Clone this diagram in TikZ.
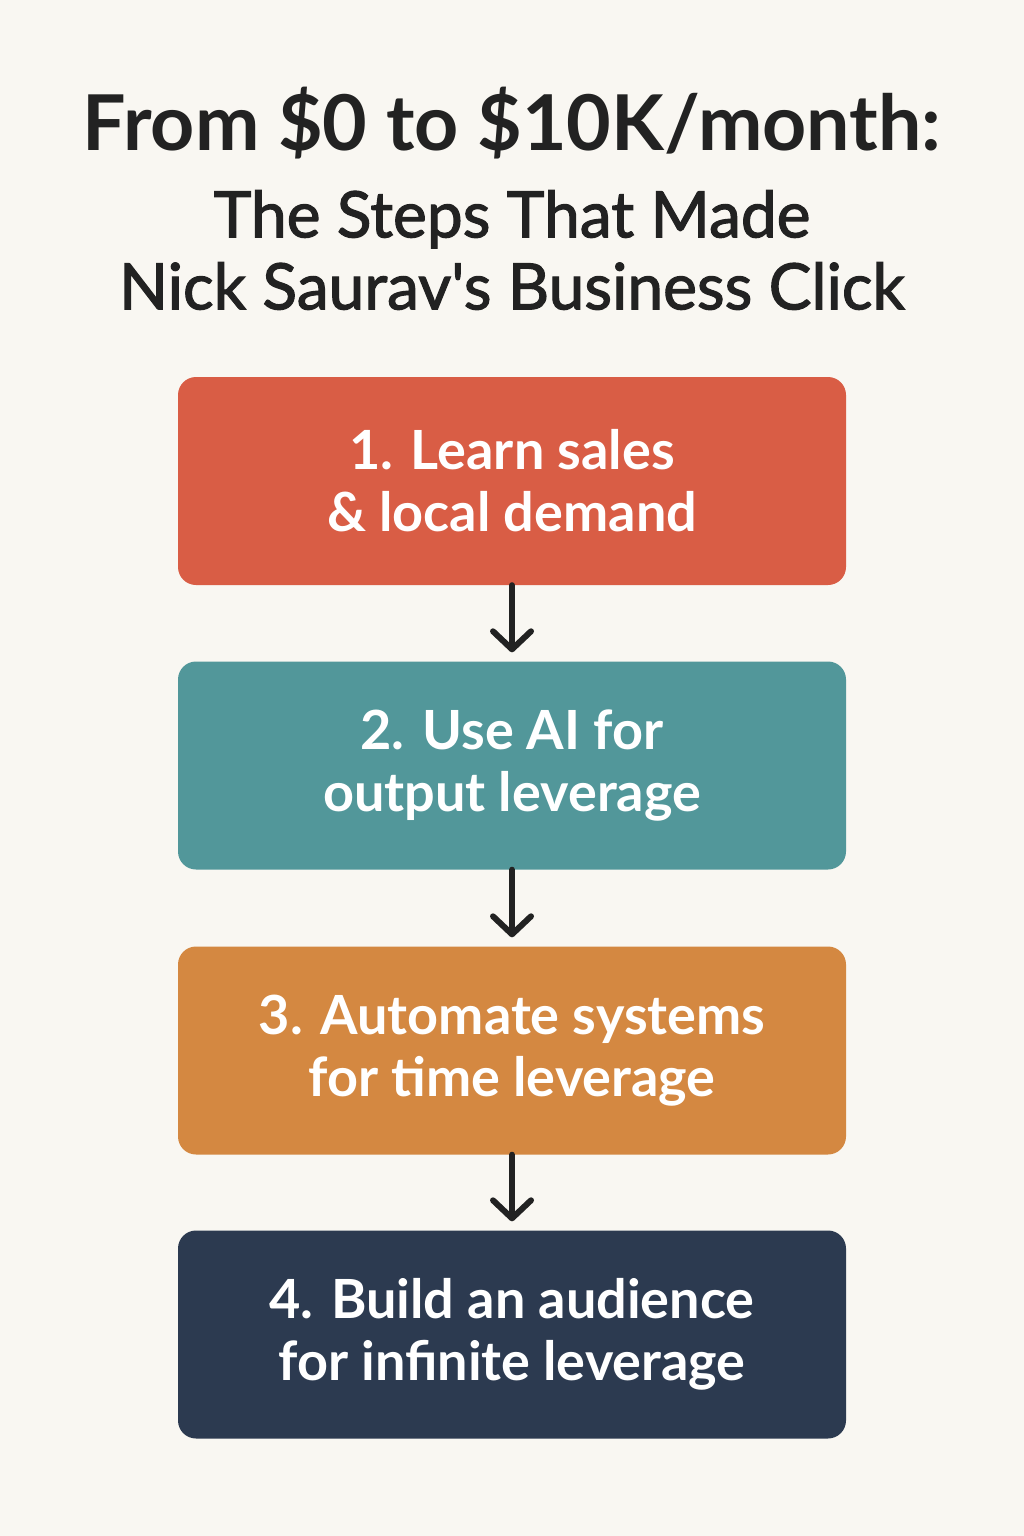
\documentclass[tikz,border=0pt]{standalone}
\usepackage{fontspec}
\setmainfont{Lato}
\newfontfamily\subfont[FakeBold=1.8]{Lato}
\usetikzlibrary{arrows.meta}
\definecolor{bg}{HTML}{F9F7F2}
\definecolor{ink}{HTML}{222222}
\definecolor{cred}{HTML}{D95D45}
\definecolor{cteal}{HTML}{52979A}
\definecolor{corange}{HTML}{D48841}
\definecolor{cnavy}{HTML}{2C3A50}
\tikzset{
  stepbox/.style={rounded corners=18pt, minimum width=668pt, minimum height=208pt,
    text=white, align=center, inner sep=0pt,
    font=\fontsize{54}{62}\selectfont\bfseries},
  arr/.style={draw=ink, line width=6pt, line cap=round, shorten >=9pt,
    -{Straight Barb[length=18pt,width=38pt,line width=6pt,line cap=round,line join=round]}}
}
\begin{document}
\begin{tikzpicture}[x=1pt,y=-1pt]
\fill[bg] (0,0) rectangle (1024,1536);
\useasboundingbox (0,0) rectangle (1024,1536);
\node[text=ink, font=\fontsize{77}{80}\selectfont\bfseries] (t1) at (512,123) {From \$0 to \$10K/month:};
\node[text=ink, align=center, font=\fontsize{64}{72}\subfont] (t2) at (512,250) {The Steps That Made\\Nick Saurav's Business Click};
\node[stepbox, fill=cred] (b1) at (512,481) {1. Learn sales\\\& local demand};
\node[stepbox, fill=cteal] (b2) at (512,765.5) {2. Use AI for\\output leverage};
\node[stepbox, fill=corange] (b3) at (512,1050.5) {3. Automate systems\\for time leverage};
\node[stepbox, fill=cnavy] (b4) at (512,1334.5) {4. Build an audience\\for infinite leverage};
\draw[arr] (b1.south) -- (b2.north);
\draw[arr] (b2.south) -- (b3.north);
\draw[arr] (b3.south) -- (b4.north);
\end{tikzpicture}
\end{document}
